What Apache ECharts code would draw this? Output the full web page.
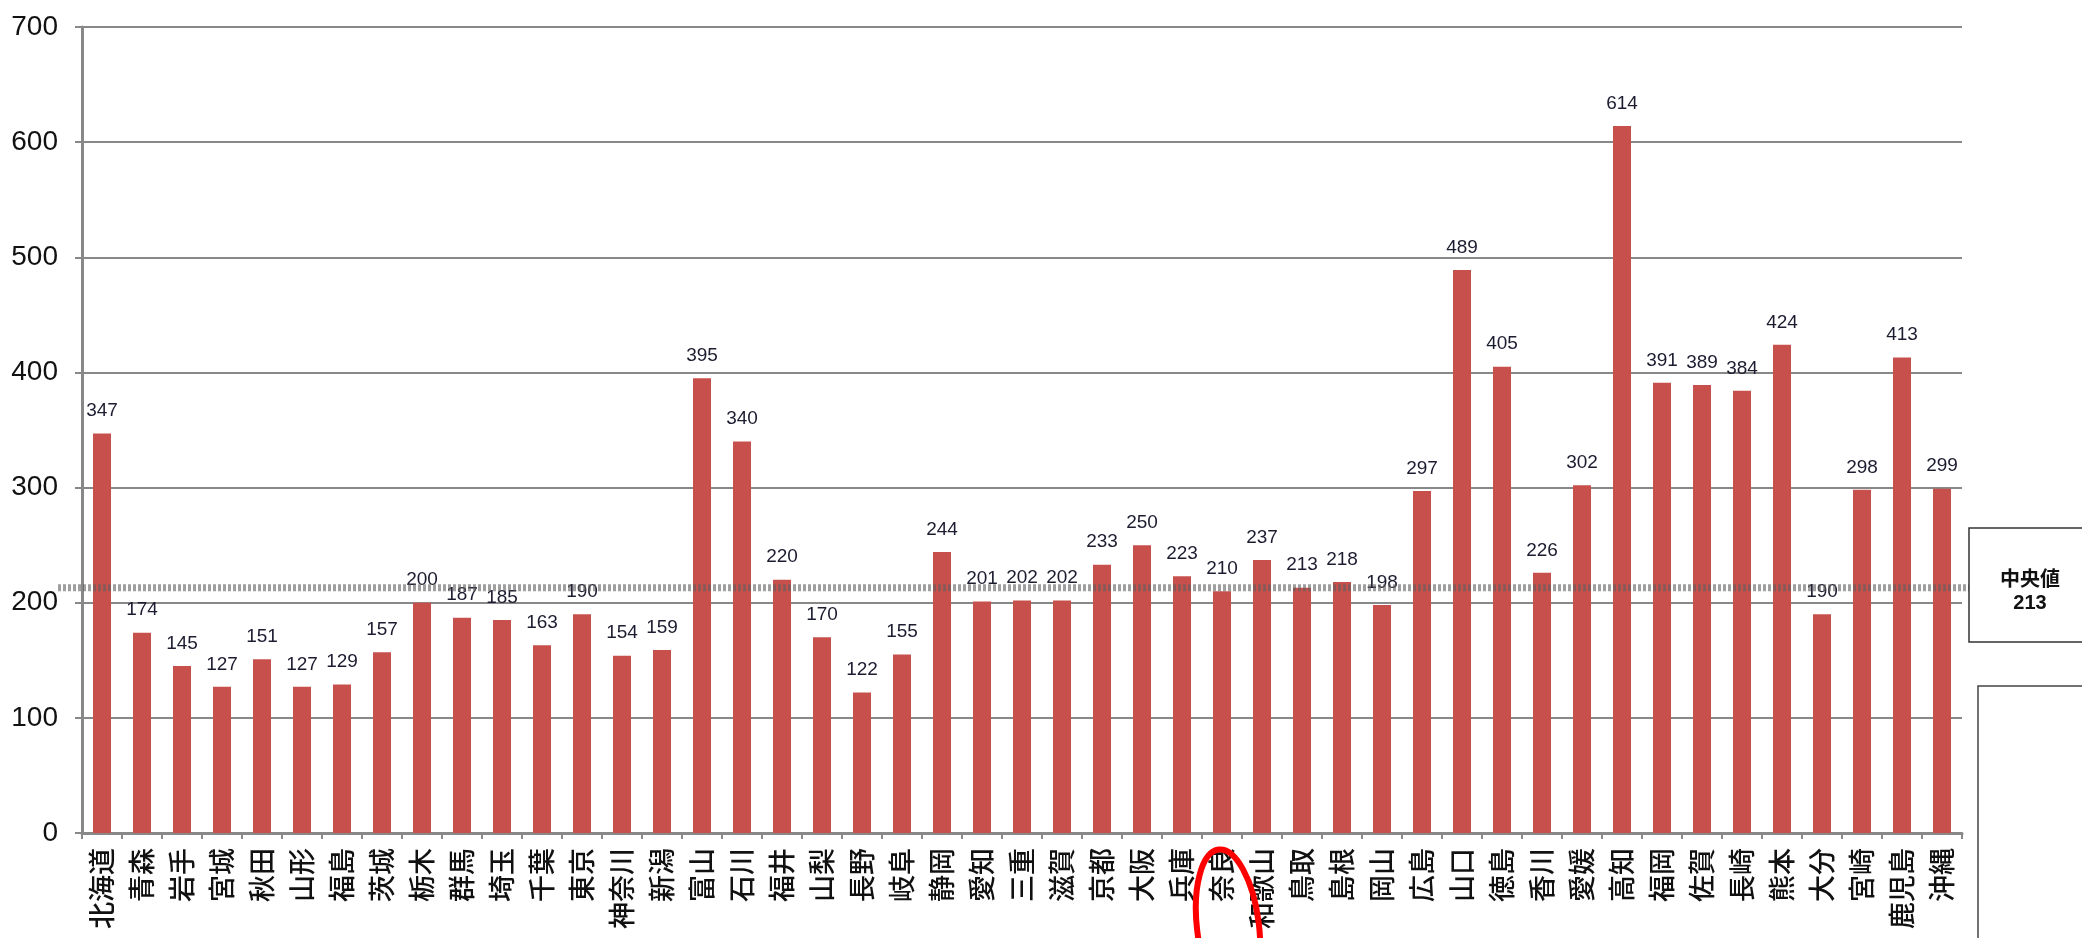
<!DOCTYPE html>
<html>
<head>
<meta charset="utf-8">
<script src="https://cdn.jsdelivr.net/npm/echarts@6/dist/echarts.min.js"></script>
<style>
    html, body { margin: 0; padding: 0; background: #fff; }
    #main { width: 2082px; height: 938px; }
</style>
</head>
<body>
<div id="main"></div>
<script>
// 都道府県
var prefs = ['北海道', '青森', '岩手', '宮城', '秋田', '山形', '福島', '茨城', '栃木', '群馬',
    '埼玉', '千葉', '東京', '神奈川', '新潟', '富山', '石川', '福井', '山梨', '長野',
    '岐阜', '静岡', '愛知', '三重', '滋賀', '京都', '大阪', '兵庫', '奈良', '和歌山',
    '鳥取', '島根', '岡山', '広島', '山口', '徳島', '香川', '愛媛', '高知', '福岡',
    '佐賀', '長崎', '熊本', '大分', '宮崎', '鹿児島', '沖縄'];
var values = [347, 174, 145, 127, 151, 127, 129, 157, 200, 187,
    185, 163, 190, 154, 159, 395, 340, 220, 170, 122,
    155, 244, 201, 202, 202, 233, 250, 223, 210, 237,
    213, 218, 198, 297, 489, 405, 226, 302, 614, 391,
    389, 384, 424, 190, 298, 413, 299];
var median = 213;
var medianText = ['中央値', '213'];
var marked = '奈良';
var yTicks = [0, 100, 200, 300, 400, 500, 600, 700];

var FONT = '"Liberation Sans", Arial, "Noto Sans CJK JP", sans-serif';
var JP = '"Noto Sans CJK JP", "Liberation Sans", sans-serif';

/*********************** 柱状図 *************************/
function createBar() {
    var option = {
        backgroundColor: '#fff',
        animation: false,
        grid: {
            left: 82,
            right: 120,
            top: 27,
            bottom: 105,
            containLabel: false,
            outerBoundsMode: 'none'
        },
        xAxis: {
            type: 'category',
            data: prefs,
            axisLine: { lineStyle: { color: '#888', width: 3 } },
            axisTick: { show: true, length: 6, lineStyle: { color: '#888', width: 2 } },
            axisLabel: {
                interval: 0,
                rotate: 90,
                margin: 15,
                fontSize: 27,
                fontWeight: 500,
                color: '#111',
                fontFamily: JP
            }
        },
        yAxis: {
            type: 'value',
            min: yTicks[0],
            max: yTicks[yTicks.length - 1],
            interval: 100,
            axisLine: { show: true, lineStyle: { color: '#888', width: 3 } },
            axisTick: { show: true, length: 7, lineStyle: { color: '#888', width: 2 } },
            splitLine: { lineStyle: { color: '#888', width: 2 } },
            axisLabel: {
                margin: 24,
                fontSize: 28,
                color: '#111',
                fontFamily: FONT
            }
        },
        series: [{
            type: 'bar',
            data: values,
            barWidth: 18,
            itemStyle: { color: '#c8504c' },
            label: {
                show: true,
                position: 'top',
                distance: 13,
                fontSize: 19,
                color: '#1c1c30',
                fontFamily: FONT
            },
            z: 2
        }]
    };
    return option;
}

var myChartBar = echarts.init(document.getElementById('main'), null, { renderer: 'canvas' });
myChartBar.setOption(createBar());

// 中央値の線・ボックス・丸印（軸から位置を取る）
function addAnnotations() {
    var yMed = myChartBar.convertToPixel({ yAxisIndex: 0 }, median);
    var xMark = myChartBar.convertToPixel({ xAxisIndex: 0 }, marked);
    myChartBar.setOption({
        graphic: [
            {
                type: 'line',
                z: 10,
                shape: { x1: 58, y1: yMed, x2: 1969, y2: yMed },
                style: { stroke: 'rgba(95,95,95,0.6)', lineWidth: 7, lineDash: [3, 2] }
            },
            {
                type: 'rect',
                z: 11,
                shape: { x: 1969, y: 528, width: 140, height: 114 },
                style: { fill: '#fff', stroke: '#333', lineWidth: 1.5 }
            },
            {
                type: 'text',
                z: 12,
                x: 2030,
                y: 578,
                style: {
                    text: medianText[0],
                    fill: '#111',
                    font: 'bold 20px ' + JP,
                    align: 'center',
                    verticalAlign: 'middle'
                }
            },
            {
                type: 'text',
                z: 12,
                x: 2030,
                y: 603,
                style: {
                    text: medianText[1],
                    fill: '#111',
                    font: 'bold 20px ' + FONT,
                    align: 'center',
                    verticalAlign: 'middle'
                }
            },
            {
                type: 'rect',
                z: 11,
                shape: { x: 1978, y: 686, width: 140, height: 300 },
                style: { fill: '#fff', stroke: '#444', lineWidth: 1.5 }
            },
            {
                type: 'ellipse',
                z: 12,
                x: xMark + 6,
                y: 927,
                rotation: 0.12,
                shape: { cx: 0, cy: 0, rx: 31, ry: 78 },
                style: { fill: null, stroke: '#ff0000', lineWidth: 6 }
            }
        ]
    });
}
addAnnotations();
</script>
</body>
</html>
